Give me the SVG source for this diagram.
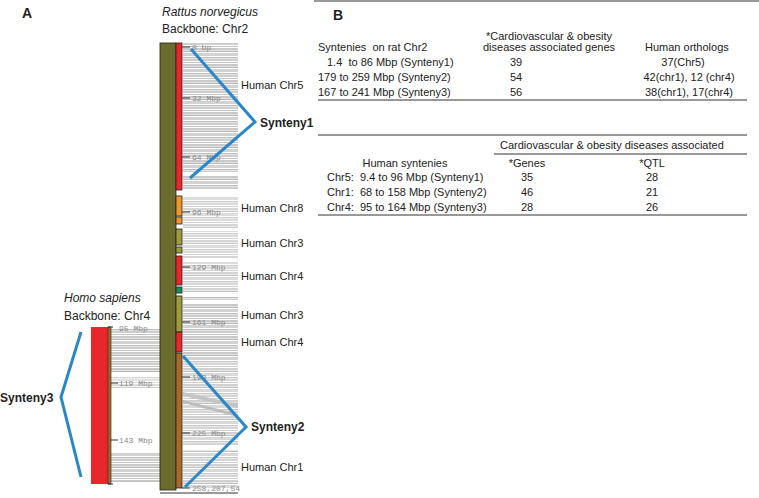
<svg xmlns="http://www.w3.org/2000/svg" width="759" height="498" viewBox="0 0 759 498">
<style>
text{font-family:"Liberation Sans",Arial,sans-serif;fill:#222;white-space:pre}
.t{font-size:11px}
.it{font-size:12px;font-style:italic}
.lb{font-size:12px}
.b{font-size:12px;font-weight:bold}
.pl{font-size:14px;font-weight:bold}
.tk{font-family:"Liberation Mono","DejaVu Sans Mono",monospace;font-size:8px;fill:#8a8a8a}
.br{fill:none;stroke:#2a88c8;stroke-width:3;stroke-linejoin:miter}
.band{stroke:#222;stroke-width:0.8}
.tick{stroke:#333;stroke-width:1}
.rule{stroke:#333;stroke-width:1}
</style>
<defs>
<pattern id="syn" width="60" height="16" patternUnits="userSpaceOnUse">
<rect x="0" y="0" width="60" height="2" fill="#c8c8c8"/>
<rect x="0" y="2" width="60" height="1" fill="#e2e2e2"/>
<rect x="0" y="3" width="60" height="1" fill="#b8b8b8"/>
<rect x="0" y="5" width="60" height="3" fill="#d2d2d2"/>
<rect x="0" y="9" width="60" height="1" fill="#bebebe"/>
<rect x="0" y="10" width="60" height="1" fill="#e4e4e4"/>
<rect x="0" y="11" width="60" height="2" fill="#cecece"/>
<rect x="0" y="14" width="60" height="1" fill="#c4c4c4"/>
</pattern>
</defs>
<rect width="759" height="498" fill="#fff"/>

<g id="synteny-lines">
<rect x="183" y="43" width="55" height="147" fill="url(#syn)"/>
<rect x="183" y="196" width="55" height="62" fill="url(#syn)" opacity="0.75"/>
<rect x="183" y="262" width="55" height="30" fill="url(#syn)" opacity="0.8"/>
<rect x="183" y="296" width="55" height="64" fill="url(#syn)"/>
<rect x="183" y="360" width="55" height="128" fill="url(#syn)" opacity="0.85"/>
<rect x="183" y="172" width="55" height="4" fill="#fff"/>
<rect x="183" y="228" width="55" height="3" fill="#fff"/>
<rect x="183" y="300" width="55" height="3" fill="#fff"/>
<rect x="183" y="446" width="55" height="4" fill="#fff"/>
<polygon points="183,392 238,404 238,408 183,396" fill="#c4c4c4"/>
<polygon points="183,400 238,414 238,417 183,403" fill="#bdbdbd"/>
<rect x="111" y="329" width="49" height="44" fill="url(#syn)"/>
<rect x="111" y="376" width="49" height="12" fill="url(#syn)" opacity="0.6"/>
<rect x="111" y="453" width="49" height="29" fill="url(#syn)"/>
</g>

<g id="rat-chr2">
<rect x="160" y="43" width="16" height="447" fill="#6b6b2e" stroke="#222" stroke-width="0.8"/>
<rect class="band" x="176" y="43" width="6" height="147" fill="#e8272a"/>
<rect class="band" x="176" y="196" width="6" height="20" fill="#f0962a"/>
<rect class="band" x="176" y="217" width="6" height="7" fill="#f0962a"/>
<rect class="band" x="176" y="229" width="6" height="16" fill="#9c9c3c"/>
<rect class="band" x="176" y="247" width="6" height="6" fill="#9c9c3c"/>
<rect class="band" x="176" y="256" width="6" height="29" fill="#e8272a"/>
<rect class="band" x="176" y="287" width="6" height="6" fill="#119050"/>
<rect class="band" x="176" y="296" width="6" height="36" fill="#9c9c3c"/>
<rect class="band" x="176" y="332" width="6" height="20" fill="#e8272a"/>
<rect class="band" x="176" y="353" width="6" height="135" fill="#a8692a"/>
<line class="rule" x1="160" y1="493" x2="238" y2="493"/>
<g class="tick">
<line x1="182" y1="47" x2="190" y2="47"/>
<line x1="182" y1="98" x2="190" y2="98"/>
<line x1="182" y1="157" x2="190" y2="157"/>
<line x1="182" y1="212" x2="190" y2="212"/>
<line x1="182" y1="267" x2="190" y2="267"/>
<line x1="182" y1="322" x2="190" y2="322"/>
<line x1="182" y1="377" x2="190" y2="377"/>
<line x1="182" y1="433" x2="190" y2="433"/>
<line x1="182" y1="488" x2="190" y2="488"/>
</g>
<text class="tk" x="192" y="50">0 bp</text>
<text class="tk" x="192" y="101">32 Mbp</text>
<text class="tk" x="192" y="160">64 Mbp</text>
<text class="tk" x="192" y="215">96 Mbp</text>
<text class="tk" x="192" y="270">129 Mbp</text>
<text class="tk" x="192" y="325">161 Mbp</text>
<text class="tk" x="192" y="380">193 Mbp</text>
<text class="tk" x="192" y="436">225 Mbp</text>
<text class="tk" x="192" y="491">258,207,54</text>
<text class="it" x="162" y="16">Rattus norvegicus</text>
<text class="lb" x="162" y="33">Backbone: Chr2</text>
</g>

<g id="human-chr4">
<rect x="91" y="327" width="17" height="157" fill="#e8272a"/>
<rect x="108" y="327" width="3" height="157" fill="#a8692a" stroke="#222" stroke-width="0.6"/>
<g class="tick">
<line x1="108" y1="327" x2="113" y2="327"/>
<line x1="108" y1="484" x2="113" y2="484"/>
<line x1="111" y1="383" x2="118" y2="383"/>
<line x1="111" y1="440" x2="118" y2="440"/>
</g>
<text class="tk" x="119" y="331">95 Mbp</text>
<text class="tk" x="119" y="386">119 Mbp</text>
<text class="tk" x="119" y="443">143 Mbp</text>
<text class="it" x="64" y="302">Homo sapiens</text>
<text class="lb" x="64" y="320">Backbone: Chr4</text>
</g>

<g id="chr-labels">
<text class="t" x="241" y="89">Human Chr5</text>
<text class="t" x="241" y="212">Human Chr8</text>
<text class="t" x="241" y="247">Human Chr3</text>
<text class="t" x="241" y="280">Human Chr4</text>
<text class="t" x="241" y="319">Human Chr3</text>
<text class="t" x="241" y="346">Human Chr4</text>
<text class="t" x="241" y="471">Human Chr1</text>
</g>

<g id="connectors">
<polyline class="br" points="191,49 255,122 190,178"/>
<polyline class="br" points="183,356 246,427 185,487"/>
<polyline class="br" points="81,332 61,397 81,477"/>
</g>
<g id="synteny-labels">
<text class="b" x="260" y="127">Synteny1</text>
<text class="b" x="251" y="431">Synteny2</text>
<text class="b" x="0" y="402">Synteny3</text>
</g>

<text class="pl" x="22" y="18">A</text>
<text class="pl" x="333" y="20">B</text>

<g id="table1">
<line class="rule" x1="314" y1="1" x2="759" y2="1"/>
<text class="t" x="549" y="40" text-anchor="middle">*Cardiovascular &amp; obesity</text>
<text class="t" x="549" y="51" text-anchor="middle">diseases associated genes</text>
<text class="t" x="318" y="51">Syntenies  on rat Chr2</text>
<text class="t" x="645" y="51">Human orthologs</text>
<text class="t" x="327" y="66">1.4  to 86 Mbp (Synteny1)</text>
<text class="t" x="516" y="66" text-anchor="middle">39</text>
<text class="t" x="683" y="66" text-anchor="middle">37(Chr5)</text>
<text class="t" x="318" y="81">179 to 259 Mbp (Synteny2)</text>
<text class="t" x="516" y="81" text-anchor="middle">54</text>
<text class="t" x="689" y="81" text-anchor="middle">42(chr1), 12 (chr4)</text>
<text class="t" x="318" y="96">167 to 241 Mbp (Synteny3)</text>
<text class="t" x="516" y="96" text-anchor="middle">56</text>
<text class="t" x="689" y="96" text-anchor="middle">38(chr1), 17(chr4)</text>
<line class="rule" x1="318" y1="100" x2="747" y2="100"/>
</g>

<g id="table2">
<line class="rule" x1="318" y1="135" x2="747" y2="135"/>
<text class="t" x="500" y="149">Cardiovascular &amp; obesity diseases associated</text>
<line class="rule" x1="494" y1="154" x2="747" y2="154" stroke-width="0.8"/>
<text class="t" x="405" y="167" text-anchor="middle">Human syntenies</text>
<text class="t" x="527" y="167" text-anchor="middle">*Genes</text>
<text class="t" x="652" y="167" text-anchor="middle">*QTL</text>
<text class="t" x="327" y="181">Chr5:</text>
<text class="t" x="360" y="181">9.4 to 96 Mbp (Synteny1)</text>
<text class="t" x="527" y="181" text-anchor="middle">35</text>
<text class="t" x="652" y="181" text-anchor="middle">28</text>
<text class="t" x="327" y="196">Chr1:</text>
<text class="t" x="360" y="196">68 to 158 Mbp (Synteny2)</text>
<text class="t" x="527" y="196" text-anchor="middle">46</text>
<text class="t" x="652" y="196" text-anchor="middle">21</text>
<text class="t" x="327" y="211">Chr4:</text>
<text class="t" x="360" y="211">95 to 164 Mbp (Synteny3)</text>
<text class="t" x="527" y="211" text-anchor="middle">28</text>
<text class="t" x="652" y="211" text-anchor="middle">26</text>
<line class="rule" x1="318" y1="215" x2="747" y2="215"/>
</g>
</svg>
